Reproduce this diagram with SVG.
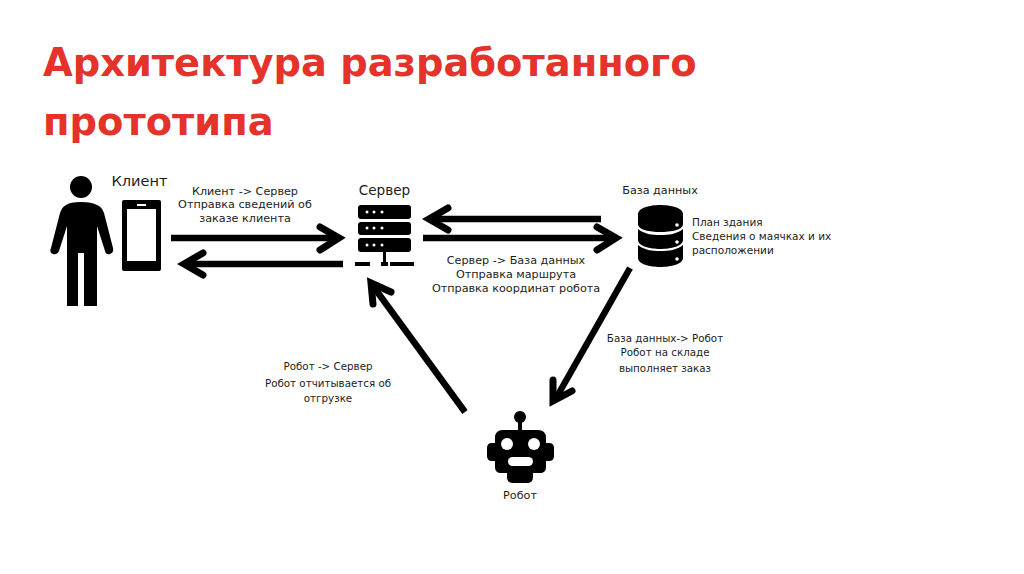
<svg xmlns="http://www.w3.org/2000/svg" width="1024" height="574" viewBox="0 0 1024 574">
<style>
text{font-family:"DejaVu Sans","Noto Sans",sans-serif;fill:#1c1c1c;font-size:11.2px;text-anchor:middle}
.s{font-size:10.3px}
.l{font-size:10.5px;text-anchor:start}
.t{font-size:38.4px;font-weight:700;fill:#e5322a;text-anchor:start}
.k{fill:#000}
.w{fill:#fff}
.c{fill:none;stroke:#000;stroke-width:6.5}
.h{fill:none;stroke:#000;stroke-width:7;stroke-linecap:round;stroke-linejoin:miter}
</style>
<rect width="1024" height="574" fill="#fff"/>
<g id="title"><text class="t" x="43" y="76">Архитектура разработанного</text><text class="t" x="43" y="135">прототипа</text></g>
<g id="connectors">
<path class="c" d="M171 238H338"/><path class="h" d="M320 227L339 238L320 250"/>
<path class="c" d="M343 264H184"/><path class="h" d="M203 253L184 264L203 275"/>
<path class="c" d="M601 219H429"/><path class="h" d="M448 208L429 219L448 230"/>
<path class="c" d="M423 238H616"/><path class="h" d="M597 227L616 238L597 250"/>
<path class="c" d="M630 268L555 400"/><path class="h" d="M553 380L553 401L572 391"/>
<path class="c" d="M465 412L373 286"/><path class="h" d="M373 304L371 283L391 292"/>
</g>
<g id="client">
<circle class="k" cx="81" cy="187" r="11"/>
<path class="k" d="M66 205Q70 202 81 202Q92 202 97 205Q102 207 104 213L113 248Q114 253 110 254Q106 255 105 251L97 226V306H84V253H78V306H67V226L59 251Q57 255 53 254Q49 253 51 248L60 213Q62 207 66 205Z"/>
<rect class="k" x="122" y="200" width="39" height="71" rx="2"/>
<rect class="w" x="127" y="209" width="29" height="52"/>
<rect class="w" x="137" y="204" width="9" height="2"/>
<text x="139.500" y="186" style="font-size:14.6px">Клиент</text>
<text x="245" y="195">Клиент -&gt; Сервер</text>
<text x="245" y="208">Отправка сведений об</text>
<text x="245" y="222">заказе клиента</text>
</g>
<g id="server">
<rect class="k" x="358" y="205" width="53" height="14" rx="3"/>
<rect class="k" x="358" y="222" width="53" height="13" rx="3"/>
<rect class="k" x="358" y="238" width="53" height="14" rx="3"/>
<g class="w"><circle cx="367" cy="212" r="1.5"/><circle cx="374" cy="212" r="1.5"/><circle cx="382" cy="212" r="1.5"/><circle cx="367" cy="228" r="1.5"/><circle cx="374" cy="228" r="1.5"/><circle cx="382" cy="228" r="1.5"/><circle cx="367" cy="245" r="1.5"/><circle cx="374" cy="245" r="1.5"/><circle cx="382" cy="245" r="1.5"/></g>
<rect class="k" x="383" y="252" width="3" height="10"/>
<rect class="k" x="355" y="262" width="15" height="4"/><rect class="k" x="381" y="262" width="7" height="4"/><rect class="k" x="390" y="262" width="24" height="4"/>
<text x="384.500" y="195" style="font-size:13.6px">Сервер</text>
<text x="516" y="264">Сервер -&gt; База данных</text>
<text x="516" y="278">Отправка маршрута</text>
<text x="516" y="292">Отправка координат робота</text>
</g>
<g id="database">
<path class="k" d="M638 214C638 208 650 205 660 205C671 205 683 208 683 214V224C683 230 671 232 660 232C650 232 638 230 638 224Z"/>
<path class="k" d="M638 229C644 234 652 235 660 235C669 235 677 234 683 229V240C683 246 671 249 660 249C650 249 638 246 638 240Z"/>
<path class="k" d="M638 245C644 250 652 251 660 251C669 251 677 250 683 245V258C683 264 671 267 660 267C650 267 638 264 638 258Z"/>
<g class="w"><circle cx="677" cy="225" r="1.8"/><circle cx="677" cy="242" r="1.8"/><circle cx="677" cy="259" r="1.8"/></g>
<text x="660" y="194">База данных</text>
<text class="l" x="692" y="226">План здания</text>
<text class="l" x="692" y="240">Сведения о маячках и их</text>
<text class="l" x="692" y="254">расположении</text>
<text class="s" x="665" y="342">База данных-&gt; Робот</text>
<text class="s" x="665" y="356">Робот на складе</text>
<text class="s" x="665" y="372">выполняет заказ</text>
</g>
<g id="robot">
<circle class="k" cx="520" cy="417" r="6"/>
<rect class="k" x="518" y="420" width="4" height="12"/>
<path class="k" d="M503 430H538Q546 430 546 438V443H549Q554 443 554 448V456Q554 461 549 461H546V467Q546 473 540 473H533V477Q533 483 527 483H513Q507 483 507 477V473H501Q495 473 495 467V461H492Q487 461 487 456V448Q487 443 492 443H495V438Q495 430 503 430Z"/>
<circle class="w" cx="507" cy="444" r="6"/><circle class="w" cx="534" cy="444" r="6"/>
<rect class="w" x="508" y="457" width="25" height="9" rx="4.5"/>
<text x="520" y="499">Робот</text>
</g>
<g id="robot-server-label">
<text class="s" x="328" y="370">Робот -&gt; Сервер</text>
<text class="s" x="328" y="387">Робот отчитывается об</text>
<text class="s" x="328" y="402">отгрузке</text>
</g>
</svg>
